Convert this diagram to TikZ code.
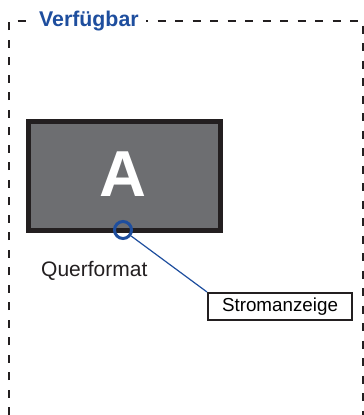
\documentclass[tikz,border=0pt]{standalone}
\usepackage{fontspec}
\setmainfont{Liberation Sans}
\usepackage{xcolor}
\definecolor{frameblue}{RGB}{30,78,158}
\definecolor{screengray}{RGB}{109,110,113}
\definecolor{bezelblack}{RGB}{35,31,32}
\usetikzlibrary{calc}

\begin{document}
\begin{tikzpicture}[x=1pt, y=-1pt,
  areaframe/.style={bezelblack, line width=2pt, dash pattern=on 8pt off 9.5pt},
  tagbox/.style={draw=bezelblack, line width=2pt, fill=white, inner sep=0pt,
    minimum width=144pt, minimum height=27pt, font=\fontsize{18.8}{20}\selectfont}]
  \useasboundingbox (0,0) rectangle (364,415);
  % available area (open at the bottom)
  \draw[areaframe] (9,415) -- (9,21) -- (363,21) -- (363,415);
  \node[font=\fontsize{21.3}{23}\selectfont\bfseries, text=frameblue, fill=white,
    inner xsep=7.5pt, inner ysep=1pt, anchor=base west] (avail) at (31.5,26.5) {Verfügbar};
  % monitor in landscape
  \node[draw=bezelblack, line width=5pt, fill=screengray, minimum width=192pt,
    minimum height=109pt, inner sep=0pt] (screen) at (124.5,176) {};
  \node[font=\fontsize{65}{67}\selectfont\bfseries, text=white, inner sep=0pt] (letter) at (123,174) {A};
  \node[font=\fontsize{21}{23}\selectfont, text=bezelblack, anchor=base west, inner sep=0pt] (orient) at (41,276) {Querformat};
  % power indicator
  \node[circle, draw=frameblue, line width=3pt, minimum size=17pt, inner sep=0pt] (led) at (123,230) {};
  \node[tagbox] (tag) at (280,306.5) {Stromanzeige};
  \draw[frameblue, line width=1.2pt] (led) -- (tag.north west);
\end{tikzpicture}
\end{document}
